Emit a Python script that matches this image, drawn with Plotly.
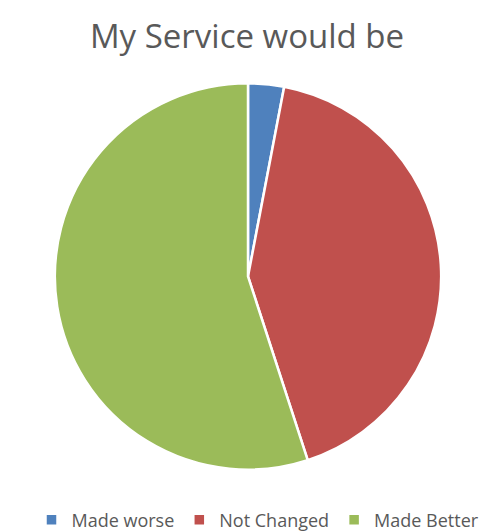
import plotly.graph_objects as go

labels = ["Made worse", "Not Changed", "Made Better"]
values = [3, 42, 55]
colors = ["#4F81BD", "#C0504D", "#9BBB59"]

W, H = 500, 531
cx, cy, r = 240, 271, 195

fig = go.Figure(go.Pie(
    labels=labels, values=values, sort=False, direction="clockwise", rotation=0,
    marker=dict(colors=colors, line=dict(color="white", width=2.5)),
    textinfo="none", hoverinfo="label+percent",
    domain=dict(x=[(cx - r) / W, (cx + r) / W], y=[1 - (cy + r) / H, 1 - (cy - r) / H]),
))
fig.update_layout(
    width=W, height=H, margin=dict(l=0, r=0, t=0, b=0),
    paper_bgcolor="white", plot_bgcolor="white",
    font=dict(family="Open Sans", color="#595959"),
    title=dict(text="My Service would be", x=0.478, xanchor="center", y=1 - 28 / H, yanchor="middle",
               font=dict(size=33, color="#595959")),
    legend=dict(orientation="h", x=0.5, xanchor="center", y=1 - 517 / H, yanchor="middle",
                font=dict(size=18, color="#595959"), itemwidth=30, tracegroupgap=0),
)
fig.write_html("out.html")
